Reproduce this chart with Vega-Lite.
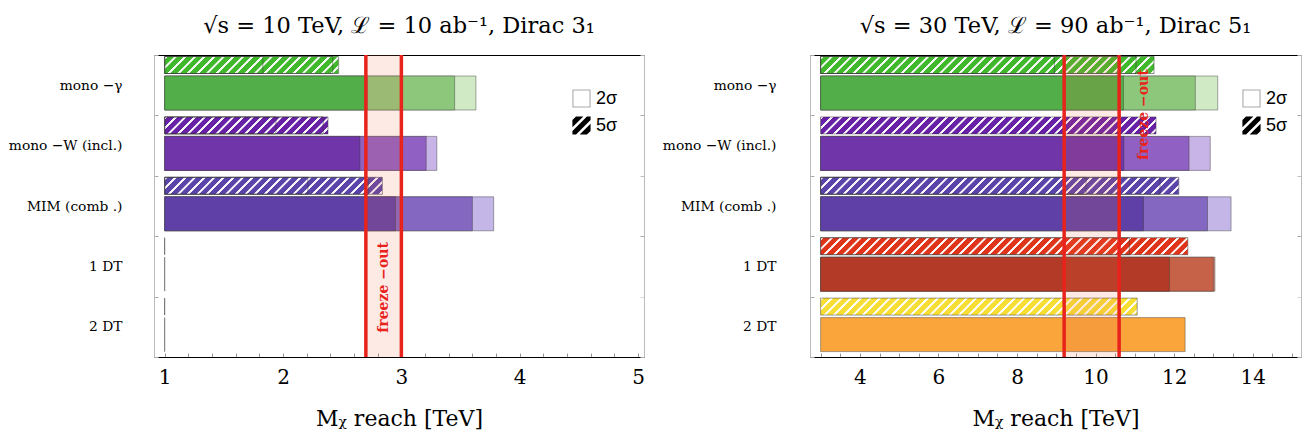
{
"$schema": "https://vega.github.io/schema/vega-lite/v6.json",
"padding": {"left": 5, "top": 14, "right": 2, "bottom": 2},
"background": "white",
"datasets": {
"left": [
{"process": "mono −γ", "sigma": "2σ", "tier": 3, "value": 3.63},
{"process": "mono −γ", "sigma": "2σ", "tier": 2, "value": 3.45},
{"process": "mono −γ", "sigma": "2σ", "tier": 1, "value": 2.71},
{"process": "mono −γ", "sigma": "5σ", "tier": 3, "value": 2.47},
{"process": "mono −γ", "sigma": "5σ", "tier": 2, "value": 2.42},
{"process": "mono −γ", "sigma": "5σ", "tier": 1, "value": 1.83},
{"process": "mono −W (incl.)", "sigma": "2σ", "tier": 3, "value": 3.30},
{"process": "mono −W (incl.)", "sigma": "2σ", "tier": 2, "value": 3.21},
{"process": "mono −W (incl.)", "sigma": "2σ", "tier": 1, "value": 2.65},
{"process": "mono −W (incl.)", "sigma": "5σ", "tier": 3, "value": 2.38},
{"process": "mono −W (incl.)", "sigma": "5σ", "tier": 2, "value": 2.34},
{"process": "mono −W (incl.)", "sigma": "5σ", "tier": 1, "value": 1.94},
{"process": "MIM (comb .)", "sigma": "2σ", "tier": 3, "value": 3.78},
{"process": "MIM (comb .)", "sigma": "2σ", "tier": 2, "value": 3.60},
{"process": "MIM (comb .)", "sigma": "2σ", "tier": 1, "value": 2.95},
{"process": "MIM (comb .)", "sigma": "5σ", "tier": 3, "value": 2.84},
{"process": "MIM (comb .)", "sigma": "5σ", "tier": 2, "value": 2.72},
{"process": "MIM (comb .)", "sigma": "5σ", "tier": 1, "value": 2.21},
{"process": "1 DT", "sigma": "2σ", "tier": 3, "value": 1.0},
{"process": "1 DT", "sigma": "5σ", "tier": 3, "value": 1.0},
{"process": "2 DT", "sigma": "2σ", "tier": 3, "value": 1.0},
{"process": "2 DT", "sigma": "5σ", "tier": 3, "value": 1.0}
],
"right": [
{"process": "mono −γ", "sigma": "2σ", "tier": 3, "value": 13.11},
{"process": "mono −γ", "sigma": "2σ", "tier": 2, "value": 12.54},
{"process": "mono −γ", "sigma": "2σ", "tier": 1, "value": 10.71},
{"process": "mono −γ", "sigma": "5σ", "tier": 3, "value": 11.49},
{"process": "mono −γ", "sigma": "5σ", "tier": 2, "value": 11.03},
{"process": "mono −γ", "sigma": "5σ", "tier": 1, "value": 8.95},
{"process": "mono −W (incl.)", "sigma": "2σ", "tier": 3, "value": 12.92},
{"process": "mono −W (incl.)", "sigma": "2σ", "tier": 2, "value": 12.38},
{"process": "mono −W (incl.)", "sigma": "2σ", "tier": 1, "value": 10.72},
{"process": "mono −W (incl.)", "sigma": "5σ", "tier": 3, "value": 11.54},
{"process": "MIM (comb .)", "sigma": "2σ", "tier": 3, "value": 13.45},
{"process": "MIM (comb .)", "sigma": "2σ", "tier": 2, "value": 12.85},
{"process": "MIM (comb .)", "sigma": "2σ", "tier": 1, "value": 11.22},
{"process": "MIM (comb .)", "sigma": "5σ", "tier": 3, "value": 12.12},
{"process": "MIM (comb .)", "sigma": "5σ", "tier": 2, "value": 11.64},
{"process": "MIM (comb .)", "sigma": "5σ", "tier": 1, "value": 9.76},
{"process": "1 DT", "sigma": "2σ", "tier": 3, "value": 13.04},
{"process": "1 DT", "sigma": "2σ", "tier": 2, "value": 13.0},
{"process": "1 DT", "sigma": "2σ", "tier": 1, "value": 11.88},
{"process": "1 DT", "sigma": "5σ", "tier": 3, "value": 12.35},
{"process": "1 DT", "sigma": "5σ", "tier": 2, "value": 10.86},
{"process": "2 DT", "sigma": "2σ", "tier": 3, "value": 12.28},
{"process": "2 DT", "sigma": "5σ", "tier": 3, "value": 11.06}
],
"leftFreeze": [{"lo": 2.7, "hi": 3.0, "tx": 2.85, "ty": "1 DT", "label": "freeze −out"}],
"rightFreeze": [{"lo": 9.2, "hi": 10.6, "tx": 11.23, "ty": "mono −W (incl.)", "label": "freeze −out"}]
},
"hconcat": [
{
"width": 490, "height": 302,
"title": {"text": "√s = 10 TeV, ℒ = 10 ab⁻¹, Dirac 3₁", "font": "DejaVu Serif", "fontSize": 22.5, "fontWeight": "normal", "anchor": "middle", "offset": 11, "color": "#000"},
"data": {"name": "left"},
"resolve": {"axis": {"x": "independent", "y": "independent"}},
"layer": [
{
"transform": [{"filter": "datum.sigma === '2σ'"}, {"calculate": "datum.process + '|' + datum.sigma + datum.tier", "as": "key"}],
"mark": {"type": "bar", "height": 34, "yOffset": 7.8, "stroke": "#3a3a3a", "strokeWidth": 0.8, "strokeOpacity": 0.55},
"encoding": {
"y": {"field": "process", "type": "nominal", "scale": {"domain": ["mono −γ", "mono −W (incl.)", "MIM (comb .)", "1 DT", "2 DT"], "paddingInner": 0, "paddingOuter": 0},
"axis": {"orient": "left", "title": null, "labelFont": "DejaVu Serif", "labelFontSize": 13.8, "labelColor": "#000", "labelPadding": 36, "tickBand": "extent", "tickSize": -4, "tickColor": "#aaa", "domainColor": "#bbb", "minExtent": 149, "maxExtent": 149}},
"x": {"field": "value", "type": "quantitative", "scale": {"domain": [0.91, 5.05], "nice": false, "zero": false},
"axis": {"orient": "bottom", "values": [1,1.2,1.4,1.6,1.8,2,2.2,2.4,2.6,2.8,3,3.2,3.4,3.6,3.8,4,4.2,4.4,4.6,4.8,5], "labelExpr": "datum.value % 1 === 0 ? format(datum.value, 'd') : ''", "title": "Mᵪ reach [TeV]", "grid": false, "domainColor": "#000", "domainWidth": 1.2, "tickColor": "#999", "tickSize": -4, "labelFont": "DejaVu Serif", "labelFontSize": 20, "labelColor": "#000", "labelPadding": 14, "labelFlush": false, "labelOverlap": false, "titleFont": "DejaVu Serif", "titleFontSize": 22, "titleFontWeight": "normal", "titleColor": "#000", "titlePadding": 21}},
"x2": {"datum": 1},
"color": {"field": "key", "type": "nominal", "legend": null, "scale": {
"domain": ["mono −γ|2σ1","mono −γ|2σ2","mono −γ|2σ3","mono −γ|5σ3","mono −W (incl.)|2σ1","mono −W (incl.)|2σ2","mono −W (incl.)|2σ3","mono −W (incl.)|5σ3","MIM (comb .)|2σ1","MIM (comb .)|2σ2","MIM (comb .)|2σ3","MIM (comb .)|5σ3","1 DT|2σ1","1 DT|2σ2","1 DT|2σ3","1 DT|5σ3","2 DT|2σ3","2 DT|5σ3"],
"range": ["#52ae48","#8dc77b","#d0eac5","#3fb82c","#6f35a9","#9060c3","#c9b4e7","#6820a6","#5e40a7","#8467c0","#c4b7e8","#5a43a9","#b33a26","#c56248","#d89a88","#e0341a","#f9a53b","#f6de34"]}}
}
},
{
"transform": [{"filter": "datum.sigma === '5σ' && datum.tier === 3"}, {"calculate": "datum.process + '|' + datum.sigma + datum.tier", "as": "key"}],
"mark": {"type": "bar", "height": 17, "yOffset": -20.2},
"encoding": {
"y": {"field": "process", "type": "nominal", "scale": {"domain": ["mono −γ", "mono −W (incl.)", "MIM (comb .)", "1 DT", "2 DT"], "paddingInner": 0, "paddingOuter": 0},
"axis": {"orient": "right", "title": null, "labels": false, "tickBand": "extent", "tickSize": -4, "tickColor": "#aaa", "domainColor": "#bbb", "minExtent": 0, "maxExtent": 0}},
"x": {"field": "value", "type": "quantitative", "scale": {"domain": [0.91, 5.05], "nice": false, "zero": false},
"axis": {"orient": "top", "values": [1,1.2,1.4,1.6,1.8,2,2.2,2.4,2.6,2.8,3,3.2,3.4,3.6,3.8,4,4.2,4.4,4.6,4.8,5], "labels": false, "title": null, "grid": false, "domainColor": "#000", "domainWidth": 1.2, "tickColor": "#999", "tickSize": -4, "minExtent": 0, "maxExtent": 0}},
"x2": {"datum": 1},
"color": {"field": "key", "type": "nominal", "legend": null, "scale": {
"domain": ["mono −γ|2σ1","mono −γ|2σ2","mono −γ|2σ3","mono −γ|5σ3","mono −W (incl.)|2σ1","mono −W (incl.)|2σ2","mono −W (incl.)|2σ3","mono −W (incl.)|5σ3","MIM (comb .)|2σ1","MIM (comb .)|2σ2","MIM (comb .)|2σ3","MIM (comb .)|5σ3","1 DT|2σ1","1 DT|2σ2","1 DT|2σ3","1 DT|5σ3","2 DT|2σ3","2 DT|5σ3"],
"range": ["#52ae48","#8dc77b","#d0eac5","#3fb82c","#6f35a9","#9060c3","#c9b4e7","#6820a6","#5e40a7","#8467c0","#c4b7e8","#5a43a9","#b33a26","#c56248","#d89a88","#e0341a","#f9a53b","#f6de34"]}}
}
},
{
"transform": [{"filter": "datum.sigma === '5σ' && datum.tier === 3"}],
"mark": {"type": "bar", "height": 17, "yOffset": -20.2, "fill": {"gradient": "linear", "x1": 0, "y1": 0, "x2": 1, "y2": 0.0354, "stops": [
{"offset":0,"color":"rgba(255,255,255,0)"},{"offset":0.001,"color":"rgba(255,255,255,0.95)"},{"offset":0.006,"color":"rgba(255,255,255,0.95)"},{"offset":0.007,"color":"rgba(255,255,255,0)"},
{"offset":0.02,"color":"rgba(255,255,255,0)"},{"offset":0.021,"color":"rgba(255,255,255,0.95)"},{"offset":0.026,"color":"rgba(255,255,255,0.95)"},{"offset":0.027,"color":"rgba(255,255,255,0)"},
{"offset":0.04,"color":"rgba(255,255,255,0)"},{"offset":0.041,"color":"rgba(255,255,255,0.95)"},{"offset":0.046,"color":"rgba(255,255,255,0.95)"},{"offset":0.047,"color":"rgba(255,255,255,0)"},
{"offset":0.06,"color":"rgba(255,255,255,0)"},{"offset":0.061,"color":"rgba(255,255,255,0.95)"},{"offset":0.066,"color":"rgba(255,255,255,0.95)"},{"offset":0.067,"color":"rgba(255,255,255,0)"},
{"offset":0.08,"color":"rgba(255,255,255,0)"},{"offset":0.081,"color":"rgba(255,255,255,0.95)"},{"offset":0.086,"color":"rgba(255,255,255,0.95)"},{"offset":0.087,"color":"rgba(255,255,255,0)"},
{"offset":0.1,"color":"rgba(255,255,255,0)"},{"offset":0.101,"color":"rgba(255,255,255,0.95)"},{"offset":0.106,"color":"rgba(255,255,255,0.95)"},{"offset":0.107,"color":"rgba(255,255,255,0)"},
{"offset":0.12,"color":"rgba(255,255,255,0)"},{"offset":0.121,"color":"rgba(255,255,255,0.95)"},{"offset":0.126,"color":"rgba(255,255,255,0.95)"},{"offset":0.127,"color":"rgba(255,255,255,0)"},
{"offset":0.14,"color":"rgba(255,255,255,0)"},{"offset":0.141,"color":"rgba(255,255,255,0.95)"},{"offset":0.146,"color":"rgba(255,255,255,0.95)"},{"offset":0.147,"color":"rgba(255,255,255,0)"},
{"offset":0.16,"color":"rgba(255,255,255,0)"},{"offset":0.161,"color":"rgba(255,255,255,0.95)"},{"offset":0.166,"color":"rgba(255,255,255,0.95)"},{"offset":0.167,"color":"rgba(255,255,255,0)"},
{"offset":0.18,"color":"rgba(255,255,255,0)"},{"offset":0.181,"color":"rgba(255,255,255,0.95)"},{"offset":0.186,"color":"rgba(255,255,255,0.95)"},{"offset":0.187,"color":"rgba(255,255,255,0)"},
{"offset":0.2,"color":"rgba(255,255,255,0)"},{"offset":0.201,"color":"rgba(255,255,255,0.95)"},{"offset":0.206,"color":"rgba(255,255,255,0.95)"},{"offset":0.207,"color":"rgba(255,255,255,0)"},
{"offset":0.22,"color":"rgba(255,255,255,0)"},{"offset":0.221,"color":"rgba(255,255,255,0.95)"},{"offset":0.226,"color":"rgba(255,255,255,0.95)"},{"offset":0.227,"color":"rgba(255,255,255,0)"},
{"offset":0.24,"color":"rgba(255,255,255,0)"},{"offset":0.241,"color":"rgba(255,255,255,0.95)"},{"offset":0.246,"color":"rgba(255,255,255,0.95)"},{"offset":0.247,"color":"rgba(255,255,255,0)"},
{"offset":0.26,"color":"rgba(255,255,255,0)"},{"offset":0.261,"color":"rgba(255,255,255,0.95)"},{"offset":0.266,"color":"rgba(255,255,255,0.95)"},{"offset":0.267,"color":"rgba(255,255,255,0)"},
{"offset":0.28,"color":"rgba(255,255,255,0)"},{"offset":0.281,"color":"rgba(255,255,255,0.95)"},{"offset":0.286,"color":"rgba(255,255,255,0.95)"},{"offset":0.287,"color":"rgba(255,255,255,0)"},
{"offset":0.3,"color":"rgba(255,255,255,0)"},{"offset":0.301,"color":"rgba(255,255,255,0.95)"},{"offset":0.306,"color":"rgba(255,255,255,0.95)"},{"offset":0.307,"color":"rgba(255,255,255,0)"},
{"offset":0.32,"color":"rgba(255,255,255,0)"},{"offset":0.321,"color":"rgba(255,255,255,0.95)"},{"offset":0.326,"color":"rgba(255,255,255,0.95)"},{"offset":0.327,"color":"rgba(255,255,255,0)"},
{"offset":0.34,"color":"rgba(255,255,255,0)"},{"offset":0.341,"color":"rgba(255,255,255,0.95)"},{"offset":0.346,"color":"rgba(255,255,255,0.95)"},{"offset":0.347,"color":"rgba(255,255,255,0)"},
{"offset":0.36,"color":"rgba(255,255,255,0)"},{"offset":0.361,"color":"rgba(255,255,255,0.95)"},{"offset":0.366,"color":"rgba(255,255,255,0.95)"},{"offset":0.367,"color":"rgba(255,255,255,0)"},
{"offset":0.38,"color":"rgba(255,255,255,0)"},{"offset":0.381,"color":"rgba(255,255,255,0.95)"},{"offset":0.386,"color":"rgba(255,255,255,0.95)"},{"offset":0.387,"color":"rgba(255,255,255,0)"},
{"offset":0.4,"color":"rgba(255,255,255,0)"},{"offset":0.401,"color":"rgba(255,255,255,0.95)"},{"offset":0.406,"color":"rgba(255,255,255,0.95)"},{"offset":0.407,"color":"rgba(255,255,255,0)"},
{"offset":0.42,"color":"rgba(255,255,255,0)"},{"offset":0.421,"color":"rgba(255,255,255,0.95)"},{"offset":0.426,"color":"rgba(255,255,255,0.95)"},{"offset":0.427,"color":"rgba(255,255,255,0)"},
{"offset":0.44,"color":"rgba(255,255,255,0)"},{"offset":0.441,"color":"rgba(255,255,255,0.95)"},{"offset":0.446,"color":"rgba(255,255,255,0.95)"},{"offset":0.447,"color":"rgba(255,255,255,0)"},
{"offset":0.46,"color":"rgba(255,255,255,0)"},{"offset":0.461,"color":"rgba(255,255,255,0.95)"},{"offset":0.466,"color":"rgba(255,255,255,0.95)"},{"offset":0.467,"color":"rgba(255,255,255,0)"},
{"offset":0.48,"color":"rgba(255,255,255,0)"},{"offset":0.481,"color":"rgba(255,255,255,0.95)"},{"offset":0.486,"color":"rgba(255,255,255,0.95)"},{"offset":0.487,"color":"rgba(255,255,255,0)"},
{"offset":0.5,"color":"rgba(255,255,255,0)"},{"offset":0.501,"color":"rgba(255,255,255,0.95)"},{"offset":0.506,"color":"rgba(255,255,255,0.95)"},{"offset":0.507,"color":"rgba(255,255,255,0)"},
{"offset":0.52,"color":"rgba(255,255,255,0)"},{"offset":0.521,"color":"rgba(255,255,255,0.95)"},{"offset":0.526,"color":"rgba(255,255,255,0.95)"},{"offset":0.527,"color":"rgba(255,255,255,0)"},
{"offset":0.54,"color":"rgba(255,255,255,0)"},{"offset":0.541,"color":"rgba(255,255,255,0.95)"},{"offset":0.546,"color":"rgba(255,255,255,0.95)"},{"offset":0.547,"color":"rgba(255,255,255,0)"},
{"offset":0.56,"color":"rgba(255,255,255,0)"},{"offset":0.561,"color":"rgba(255,255,255,0.95)"},{"offset":0.566,"color":"rgba(255,255,255,0.95)"},{"offset":0.567,"color":"rgba(255,255,255,0)"},
{"offset":0.58,"color":"rgba(255,255,255,0)"},{"offset":0.581,"color":"rgba(255,255,255,0.95)"},{"offset":0.586,"color":"rgba(255,255,255,0.95)"},{"offset":0.587,"color":"rgba(255,255,255,0)"},
{"offset":0.6,"color":"rgba(255,255,255,0)"},{"offset":0.601,"color":"rgba(255,255,255,0.95)"},{"offset":0.606,"color":"rgba(255,255,255,0.95)"},{"offset":0.607,"color":"rgba(255,255,255,0)"},
{"offset":0.62,"color":"rgba(255,255,255,0)"},{"offset":0.621,"color":"rgba(255,255,255,0.95)"},{"offset":0.626,"color":"rgba(255,255,255,0.95)"},{"offset":0.627,"color":"rgba(255,255,255,0)"},
{"offset":0.64,"color":"rgba(255,255,255,0)"},{"offset":0.641,"color":"rgba(255,255,255,0.95)"},{"offset":0.646,"color":"rgba(255,255,255,0.95)"},{"offset":0.647,"color":"rgba(255,255,255,0)"},
{"offset":0.66,"color":"rgba(255,255,255,0)"},{"offset":0.661,"color":"rgba(255,255,255,0.95)"},{"offset":0.666,"color":"rgba(255,255,255,0.95)"},{"offset":0.667,"color":"rgba(255,255,255,0)"},
{"offset":0.68,"color":"rgba(255,255,255,0)"},{"offset":0.681,"color":"rgba(255,255,255,0.95)"},{"offset":0.686,"color":"rgba(255,255,255,0.95)"},{"offset":0.687,"color":"rgba(255,255,255,0)"},
{"offset":0.7,"color":"rgba(255,255,255,0)"},{"offset":0.701,"color":"rgba(255,255,255,0.95)"},{"offset":0.706,"color":"rgba(255,255,255,0.95)"},{"offset":0.707,"color":"rgba(255,255,255,0)"},
{"offset":0.72,"color":"rgba(255,255,255,0)"},{"offset":0.721,"color":"rgba(255,255,255,0.95)"},{"offset":0.726,"color":"rgba(255,255,255,0.95)"},{"offset":0.727,"color":"rgba(255,255,255,0)"},
{"offset":0.74,"color":"rgba(255,255,255,0)"},{"offset":0.741,"color":"rgba(255,255,255,0.95)"},{"offset":0.746,"color":"rgba(255,255,255,0.95)"},{"offset":0.747,"color":"rgba(255,255,255,0)"},
{"offset":0.76,"color":"rgba(255,255,255,0)"},{"offset":0.761,"color":"rgba(255,255,255,0.95)"},{"offset":0.766,"color":"rgba(255,255,255,0.95)"},{"offset":0.767,"color":"rgba(255,255,255,0)"},
{"offset":0.78,"color":"rgba(255,255,255,0)"},{"offset":0.781,"color":"rgba(255,255,255,0.95)"},{"offset":0.786,"color":"rgba(255,255,255,0.95)"},{"offset":0.787,"color":"rgba(255,255,255,0)"},
{"offset":0.8,"color":"rgba(255,255,255,0)"},{"offset":0.801,"color":"rgba(255,255,255,0.95)"},{"offset":0.806,"color":"rgba(255,255,255,0.95)"},{"offset":0.807,"color":"rgba(255,255,255,0)"},
{"offset":0.82,"color":"rgba(255,255,255,0)"},{"offset":0.821,"color":"rgba(255,255,255,0.95)"},{"offset":0.826,"color":"rgba(255,255,255,0.95)"},{"offset":0.827,"color":"rgba(255,255,255,0)"},
{"offset":0.84,"color":"rgba(255,255,255,0)"},{"offset":0.841,"color":"rgba(255,255,255,0.95)"},{"offset":0.846,"color":"rgba(255,255,255,0.95)"},{"offset":0.847,"color":"rgba(255,255,255,0)"},
{"offset":0.86,"color":"rgba(255,255,255,0)"},{"offset":0.861,"color":"rgba(255,255,255,0.95)"},{"offset":0.866,"color":"rgba(255,255,255,0.95)"},{"offset":0.867,"color":"rgba(255,255,255,0)"},
{"offset":0.88,"color":"rgba(255,255,255,0)"},{"offset":0.881,"color":"rgba(255,255,255,0.95)"},{"offset":0.886,"color":"rgba(255,255,255,0.95)"},{"offset":0.887,"color":"rgba(255,255,255,0)"},
{"offset":0.9,"color":"rgba(255,255,255,0)"},{"offset":0.901,"color":"rgba(255,255,255,0.95)"},{"offset":0.906,"color":"rgba(255,255,255,0.95)"},{"offset":0.907,"color":"rgba(255,255,255,0)"},
{"offset":0.92,"color":"rgba(255,255,255,0)"},{"offset":0.921,"color":"rgba(255,255,255,0.95)"},{"offset":0.926,"color":"rgba(255,255,255,0.95)"},{"offset":0.927,"color":"rgba(255,255,255,0)"},
{"offset":0.94,"color":"rgba(255,255,255,0)"},{"offset":0.941,"color":"rgba(255,255,255,0.95)"},{"offset":0.946,"color":"rgba(255,255,255,0.95)"},{"offset":0.947,"color":"rgba(255,255,255,0)"},
{"offset":0.96,"color":"rgba(255,255,255,0)"},{"offset":0.961,"color":"rgba(255,255,255,0.95)"},{"offset":0.966,"color":"rgba(255,255,255,0.95)"},{"offset":0.967,"color":"rgba(255,255,255,0)"},
{"offset":0.98,"color":"rgba(255,255,255,0)"},{"offset":0.981,"color":"rgba(255,255,255,0.95)"},{"offset":0.986,"color":"rgba(255,255,255,0.95)"},{"offset":0.987,"color":"rgba(255,255,255,0)"}
]}},
"encoding": {
"y": {"field": "process", "type": "nominal", "axis": null, "scale": {"domain": ["mono −γ", "mono −W (incl.)", "MIM (comb .)", "1 DT", "2 DT"], "paddingInner": 0, "paddingOuter": 0}},
"x": {"datum": 1, "type": "quantitative", "axis": null, "scale": {"domain": [0.91, 5.05], "nice": false, "zero": false}},
"x2": {"datum": 5.05}
}
},
{
"transform": [{"filter": "datum.sigma === '5σ' && datum.tier === 3"}],
"mark": {"type": "bar", "color": "#ffffff", "height": 18, "yOffset": -20.2},
"encoding": {
"y": {"field": "process", "type": "nominal", "axis": null, "scale": {"domain": ["mono −γ", "mono −W (incl.)", "MIM (comb .)", "1 DT", "2 DT"], "paddingInner": 0, "paddingOuter": 0}},
"x": {"field": "value", "type": "quantitative", "axis": null, "scale": {"domain": [0.91, 5.05], "nice": false, "zero": false}},
"x2": {"datum": 5.05}
}
},
{
"transform": [{"filter": "datum.sigma === '5σ'"}],
"mark": {"type": "bar", "height": 17, "yOffset": -20.2, "fillOpacity": 0, "stroke": "#333333", "strokeWidth": 0.8, "strokeOpacity": 0.6},
"encoding": {
"y": {"field": "process", "type": "nominal", "axis": null, "scale": {"domain": ["mono −γ", "mono −W (incl.)", "MIM (comb .)", "1 DT", "2 DT"], "paddingInner": 0, "paddingOuter": 0}},
"x": {"field": "value", "type": "quantitative", "axis": null, "scale": {"domain": [0.91, 5.05], "nice": false, "zero": false}},
"x2": {"datum": 1}
}
},
{
"data": {"name": "leftFreeze"},
"mark": {"type": "rect", "color": "#f26a45", "opacity": 0.14},
"encoding": {
"x": {"field": "lo", "type": "quantitative", "axis": null, "scale": {"domain": [0.91, 5.05], "nice": false, "zero": false}},
"x2": {"field": "hi"}
}
},
{
"data": {"name": "leftFreeze"},
"mark": {"type": "rule", "color": "#e8231b", "strokeWidth": 3.5},
"encoding": {"x": {"field": "lo", "type": "quantitative", "axis": null, "scale": {"domain": [0.91, 5.05], "nice": false, "zero": false}}}
},
{
"data": {"name": "leftFreeze"},
"mark": {"type": "rule", "color": "#e8231b", "strokeWidth": 3.5},
"encoding": {"x": {"field": "hi", "type": "quantitative", "axis": null, "scale": {"domain": [0.91, 5.05], "nice": false, "zero": false}}}
},
{
"data": {"name": "leftFreeze"},
"mark": {"type": "text", "angle": 270, "font": "DejaVu Serif", "fontWeight": "bold", "fontSize": 14, "color": "#e8231b", "align": "center", "baseline": "middle", "yOffset": 21},
"encoding": {
"x": {"field": "tx", "type": "quantitative", "axis": null, "scale": {"domain": [0.91, 5.05], "nice": false, "zero": false}},
"y": {"field": "ty", "type": "nominal", "axis": null, "scale": {"domain": ["mono −γ", "mono −W (incl.)", "MIM (comb .)", "1 DT", "2 DT"], "paddingInner": 0, "paddingOuter": 0}},
"text": {"field": "label"}
}
},
{
"mark": {"type": "point", "filled": true, "opacity": 0},
"encoding": {
"y": {"field": "process", "type": "nominal", "axis": null, "scale": {"domain": ["mono −γ", "mono −W (incl.)", "MIM (comb .)", "1 DT", "2 DT"], "paddingInner": 0, "paddingOuter": 0}},
"x": {"field": "value", "type": "quantitative", "axis": null, "scale": {"domain": [0.91, 5.05], "nice": false, "zero": false}},
"shape": {"field": "sigma", "type": "nominal", "scale": {"domain": ["2σ", "5σ"], "range": ["M-1,-1H1V1H-1Z M-0.88,-0.88V0.88H0.88V-0.88Z", "M-1,-0.6L-0.6,-1L0.2,-1L-1,0.2Z M-1,0.6L0.6,-1L1,-1L1,-0.6L-0.6,1L-1,1Z M1,-0.2L1,0.6L0.6,1L-0.2,1Z"]},
"legend": {"orient": "none", "legendX": 418, "legendY": 34, "title": null, "padding": 0, "symbolSize": 330, "symbolOpacity": 1, "symbolStrokeWidth": 0, "labelFont": "Liberation Sans", "labelFontSize": 18, "labelColor": "#000", "rowPadding": 8, "labelOffset": 5}},
"fill": {"field": "sigma", "type": "nominal", "scale": {"domain": ["2σ", "5σ"], "range": ["#aaaaaa", "#000000"]},
"legend": {"orient": "none", "legendX": 418, "legendY": 34, "title": null, "padding": 0, "symbolSize": 330, "symbolOpacity": 1, "symbolStrokeWidth": 0, "labelFont": "Liberation Sans", "labelFontSize": 18, "labelColor": "#000", "rowPadding": 8, "labelOffset": 5}}
}
}
]
},
{
"width": 491, "height": 302,
"title": {"text": "√s = 30 TeV, ℒ = 90 ab⁻¹, Dirac 5₁", "font": "DejaVu Serif", "fontSize": 22.5, "fontWeight": "normal", "anchor": "middle", "offset": 11, "color": "#000"},
"data": {"name": "right"},
"resolve": {"axis": {"x": "independent", "y": "independent"}},
"layer": [
{
"transform": [{"filter": "datum.sigma === '2σ'"}, {"calculate": "datum.process + '|' + datum.sigma + datum.tier", "as": "key"}],
"mark": {"type": "bar", "height": 34, "yOffset": 7.8, "stroke": "#3a3a3a", "strokeWidth": 0.8, "strokeOpacity": 0.55},
"encoding": {
"y": {"field": "process", "type": "nominal", "scale": {"domain": ["mono −γ", "mono −W (incl.)", "MIM (comb .)", "1 DT", "2 DT"], "paddingInner": 0, "paddingOuter": 0},
"axis": {"orient": "left", "title": null, "labelFont": "DejaVu Serif", "labelFontSize": 13.8, "labelColor": "#000", "labelPadding": 38, "tickBand": "extent", "tickSize": -4, "tickColor": "#aaa", "domainColor": "#bbb", "minExtent": 150, "maxExtent": 150}},
"x": {"field": "value", "type": "quantitative", "scale": {"domain": [2.73, 15.23], "nice": false, "zero": false},
"axis": {"orient": "bottom", "values": [3,3.5,4,4.5,5,5.5,6,6.5,7,7.5,8,8.5,9,9.5,10,10.5,11,11.5,12,12.5,13,13.5,14,14.5,15], "labelExpr": "datum.value % 2 === 0 ? format(datum.value, 'd') : ''", "title": "Mᵪ reach [TeV]", "grid": false, "domainColor": "#000", "domainWidth": 1.2, "tickColor": "#999", "tickSize": -4, "labelFont": "DejaVu Serif", "labelFontSize": 20, "labelColor": "#000", "labelPadding": 14, "labelFlush": false, "labelOverlap": false, "titleFont": "DejaVu Serif", "titleFontSize": 22, "titleFontWeight": "normal", "titleColor": "#000", "titlePadding": 21}},
"x2": {"datum": 3},
"color": {"field": "key", "type": "nominal", "legend": null, "scale": {
"domain": ["mono −γ|2σ1","mono −γ|2σ2","mono −γ|2σ3","mono −γ|5σ3","mono −W (incl.)|2σ1","mono −W (incl.)|2σ2","mono −W (incl.)|2σ3","mono −W (incl.)|5σ3","MIM (comb .)|2σ1","MIM (comb .)|2σ2","MIM (comb .)|2σ3","MIM (comb .)|5σ3","1 DT|2σ1","1 DT|2σ2","1 DT|2σ3","1 DT|5σ3","2 DT|2σ3","2 DT|5σ3"],
"range": ["#52ae48","#8dc77b","#d0eac5","#3fb82c","#6f35a9","#9060c3","#c9b4e7","#6820a6","#5e40a7","#8467c0","#c4b7e8","#5a43a9","#b33a26","#c56248","#d89a88","#e0341a","#f9a53b","#f6de34"]}}
}
},
{
"transform": [{"filter": "datum.sigma === '5σ' && datum.tier === 3"}, {"calculate": "datum.process + '|' + datum.sigma + datum.tier", "as": "key"}],
"mark": {"type": "bar", "height": 17, "yOffset": -20.2},
"encoding": {
"y": {"field": "process", "type": "nominal", "scale": {"domain": ["mono −γ", "mono −W (incl.)", "MIM (comb .)", "1 DT", "2 DT"], "paddingInner": 0, "paddingOuter": 0},
"axis": {"orient": "right", "title": null, "labels": false, "tickBand": "extent", "tickSize": -4, "tickColor": "#aaa", "domainColor": "#bbb", "minExtent": 0, "maxExtent": 0}},
"x": {"field": "value", "type": "quantitative", "scale": {"domain": [2.73, 15.23], "nice": false, "zero": false},
"axis": {"orient": "top", "values": [3,3.5,4,4.5,5,5.5,6,6.5,7,7.5,8,8.5,9,9.5,10,10.5,11,11.5,12,12.5,13,13.5,14,14.5,15], "labels": false, "title": null, "grid": false, "domainColor": "#000", "domainWidth": 1.2, "tickColor": "#999", "tickSize": -4, "minExtent": 0, "maxExtent": 0}},
"x2": {"datum": 3},
"color": {"field": "key", "type": "nominal", "legend": null, "scale": {
"domain": ["mono −γ|2σ1","mono −γ|2σ2","mono −γ|2σ3","mono −γ|5σ3","mono −W (incl.)|2σ1","mono −W (incl.)|2σ2","mono −W (incl.)|2σ3","mono −W (incl.)|5σ3","MIM (comb .)|2σ1","MIM (comb .)|2σ2","MIM (comb .)|2σ3","MIM (comb .)|5σ3","1 DT|2σ1","1 DT|2σ2","1 DT|2σ3","1 DT|5σ3","2 DT|2σ3","2 DT|5σ3"],
"range": ["#52ae48","#8dc77b","#d0eac5","#3fb82c","#6f35a9","#9060c3","#c9b4e7","#6820a6","#5e40a7","#8467c0","#c4b7e8","#5a43a9","#b33a26","#c56248","#d89a88","#e0341a","#f9a53b","#f6de34"]}}
}
},
{
"transform": [{"filter": "datum.sigma === '5σ' && datum.tier === 3"}],
"mark": {"type": "bar", "height": 17, "yOffset": -20.2, "fill": {"gradient": "linear", "x1": 0, "y1": 0, "x2": 1, "y2": 0.0354, "stops": [
{"offset":0,"color":"rgba(255,255,255,0)"},{"offset":0.001,"color":"rgba(255,255,255,0.95)"},{"offset":0.006,"color":"rgba(255,255,255,0.95)"},{"offset":0.007,"color":"rgba(255,255,255,0)"},
{"offset":0.02,"color":"rgba(255,255,255,0)"},{"offset":0.021,"color":"rgba(255,255,255,0.95)"},{"offset":0.026,"color":"rgba(255,255,255,0.95)"},{"offset":0.027,"color":"rgba(255,255,255,0)"},
{"offset":0.04,"color":"rgba(255,255,255,0)"},{"offset":0.041,"color":"rgba(255,255,255,0.95)"},{"offset":0.046,"color":"rgba(255,255,255,0.95)"},{"offset":0.047,"color":"rgba(255,255,255,0)"},
{"offset":0.06,"color":"rgba(255,255,255,0)"},{"offset":0.061,"color":"rgba(255,255,255,0.95)"},{"offset":0.066,"color":"rgba(255,255,255,0.95)"},{"offset":0.067,"color":"rgba(255,255,255,0)"},
{"offset":0.08,"color":"rgba(255,255,255,0)"},{"offset":0.081,"color":"rgba(255,255,255,0.95)"},{"offset":0.086,"color":"rgba(255,255,255,0.95)"},{"offset":0.087,"color":"rgba(255,255,255,0)"},
{"offset":0.1,"color":"rgba(255,255,255,0)"},{"offset":0.101,"color":"rgba(255,255,255,0.95)"},{"offset":0.106,"color":"rgba(255,255,255,0.95)"},{"offset":0.107,"color":"rgba(255,255,255,0)"},
{"offset":0.12,"color":"rgba(255,255,255,0)"},{"offset":0.121,"color":"rgba(255,255,255,0.95)"},{"offset":0.126,"color":"rgba(255,255,255,0.95)"},{"offset":0.127,"color":"rgba(255,255,255,0)"},
{"offset":0.14,"color":"rgba(255,255,255,0)"},{"offset":0.141,"color":"rgba(255,255,255,0.95)"},{"offset":0.146,"color":"rgba(255,255,255,0.95)"},{"offset":0.147,"color":"rgba(255,255,255,0)"},
{"offset":0.16,"color":"rgba(255,255,255,0)"},{"offset":0.161,"color":"rgba(255,255,255,0.95)"},{"offset":0.166,"color":"rgba(255,255,255,0.95)"},{"offset":0.167,"color":"rgba(255,255,255,0)"},
{"offset":0.18,"color":"rgba(255,255,255,0)"},{"offset":0.181,"color":"rgba(255,255,255,0.95)"},{"offset":0.186,"color":"rgba(255,255,255,0.95)"},{"offset":0.187,"color":"rgba(255,255,255,0)"},
{"offset":0.2,"color":"rgba(255,255,255,0)"},{"offset":0.201,"color":"rgba(255,255,255,0.95)"},{"offset":0.206,"color":"rgba(255,255,255,0.95)"},{"offset":0.207,"color":"rgba(255,255,255,0)"},
{"offset":0.22,"color":"rgba(255,255,255,0)"},{"offset":0.221,"color":"rgba(255,255,255,0.95)"},{"offset":0.226,"color":"rgba(255,255,255,0.95)"},{"offset":0.227,"color":"rgba(255,255,255,0)"},
{"offset":0.24,"color":"rgba(255,255,255,0)"},{"offset":0.241,"color":"rgba(255,255,255,0.95)"},{"offset":0.246,"color":"rgba(255,255,255,0.95)"},{"offset":0.247,"color":"rgba(255,255,255,0)"},
{"offset":0.26,"color":"rgba(255,255,255,0)"},{"offset":0.261,"color":"rgba(255,255,255,0.95)"},{"offset":0.266,"color":"rgba(255,255,255,0.95)"},{"offset":0.267,"color":"rgba(255,255,255,0)"},
{"offset":0.28,"color":"rgba(255,255,255,0)"},{"offset":0.281,"color":"rgba(255,255,255,0.95)"},{"offset":0.286,"color":"rgba(255,255,255,0.95)"},{"offset":0.287,"color":"rgba(255,255,255,0)"},
{"offset":0.3,"color":"rgba(255,255,255,0)"},{"offset":0.301,"color":"rgba(255,255,255,0.95)"},{"offset":0.306,"color":"rgba(255,255,255,0.95)"},{"offset":0.307,"color":"rgba(255,255,255,0)"},
{"offset":0.32,"color":"rgba(255,255,255,0)"},{"offset":0.321,"color":"rgba(255,255,255,0.95)"},{"offset":0.326,"color":"rgba(255,255,255,0.95)"},{"offset":0.327,"color":"rgba(255,255,255,0)"},
{"offset":0.34,"color":"rgba(255,255,255,0)"},{"offset":0.341,"color":"rgba(255,255,255,0.95)"},{"offset":0.346,"color":"rgba(255,255,255,0.95)"},{"offset":0.347,"color":"rgba(255,255,255,0)"},
{"offset":0.36,"color":"rgba(255,255,255,0)"},{"offset":0.361,"color":"rgba(255,255,255,0.95)"},{"offset":0.366,"color":"rgba(255,255,255,0.95)"},{"offset":0.367,"color":"rgba(255,255,255,0)"},
{"offset":0.38,"color":"rgba(255,255,255,0)"},{"offset":0.381,"color":"rgba(255,255,255,0.95)"},{"offset":0.386,"color":"rgba(255,255,255,0.95)"},{"offset":0.387,"color":"rgba(255,255,255,0)"},
{"offset":0.4,"color":"rgba(255,255,255,0)"},{"offset":0.401,"color":"rgba(255,255,255,0.95)"},{"offset":0.406,"color":"rgba(255,255,255,0.95)"},{"offset":0.407,"color":"rgba(255,255,255,0)"},
{"offset":0.42,"color":"rgba(255,255,255,0)"},{"offset":0.421,"color":"rgba(255,255,255,0.95)"},{"offset":0.426,"color":"rgba(255,255,255,0.95)"},{"offset":0.427,"color":"rgba(255,255,255,0)"},
{"offset":0.44,"color":"rgba(255,255,255,0)"},{"offset":0.441,"color":"rgba(255,255,255,0.95)"},{"offset":0.446,"color":"rgba(255,255,255,0.95)"},{"offset":0.447,"color":"rgba(255,255,255,0)"},
{"offset":0.46,"color":"rgba(255,255,255,0)"},{"offset":0.461,"color":"rgba(255,255,255,0.95)"},{"offset":0.466,"color":"rgba(255,255,255,0.95)"},{"offset":0.467,"color":"rgba(255,255,255,0)"},
{"offset":0.48,"color":"rgba(255,255,255,0)"},{"offset":0.481,"color":"rgba(255,255,255,0.95)"},{"offset":0.486,"color":"rgba(255,255,255,0.95)"},{"offset":0.487,"color":"rgba(255,255,255,0)"},
{"offset":0.5,"color":"rgba(255,255,255,0)"},{"offset":0.501,"color":"rgba(255,255,255,0.95)"},{"offset":0.506,"color":"rgba(255,255,255,0.95)"},{"offset":0.507,"color":"rgba(255,255,255,0)"},
{"offset":0.52,"color":"rgba(255,255,255,0)"},{"offset":0.521,"color":"rgba(255,255,255,0.95)"},{"offset":0.526,"color":"rgba(255,255,255,0.95)"},{"offset":0.527,"color":"rgba(255,255,255,0)"},
{"offset":0.54,"color":"rgba(255,255,255,0)"},{"offset":0.541,"color":"rgba(255,255,255,0.95)"},{"offset":0.546,"color":"rgba(255,255,255,0.95)"},{"offset":0.547,"color":"rgba(255,255,255,0)"},
{"offset":0.56,"color":"rgba(255,255,255,0)"},{"offset":0.561,"color":"rgba(255,255,255,0.95)"},{"offset":0.566,"color":"rgba(255,255,255,0.95)"},{"offset":0.567,"color":"rgba(255,255,255,0)"},
{"offset":0.58,"color":"rgba(255,255,255,0)"},{"offset":0.581,"color":"rgba(255,255,255,0.95)"},{"offset":0.586,"color":"rgba(255,255,255,0.95)"},{"offset":0.587,"color":"rgba(255,255,255,0)"},
{"offset":0.6,"color":"rgba(255,255,255,0)"},{"offset":0.601,"color":"rgba(255,255,255,0.95)"},{"offset":0.606,"color":"rgba(255,255,255,0.95)"},{"offset":0.607,"color":"rgba(255,255,255,0)"},
{"offset":0.62,"color":"rgba(255,255,255,0)"},{"offset":0.621,"color":"rgba(255,255,255,0.95)"},{"offset":0.626,"color":"rgba(255,255,255,0.95)"},{"offset":0.627,"color":"rgba(255,255,255,0)"},
{"offset":0.64,"color":"rgba(255,255,255,0)"},{"offset":0.641,"color":"rgba(255,255,255,0.95)"},{"offset":0.646,"color":"rgba(255,255,255,0.95)"},{"offset":0.647,"color":"rgba(255,255,255,0)"},
{"offset":0.66,"color":"rgba(255,255,255,0)"},{"offset":0.661,"color":"rgba(255,255,255,0.95)"},{"offset":0.666,"color":"rgba(255,255,255,0.95)"},{"offset":0.667,"color":"rgba(255,255,255,0)"},
{"offset":0.68,"color":"rgba(255,255,255,0)"},{"offset":0.681,"color":"rgba(255,255,255,0.95)"},{"offset":0.686,"color":"rgba(255,255,255,0.95)"},{"offset":0.687,"color":"rgba(255,255,255,0)"},
{"offset":0.7,"color":"rgba(255,255,255,0)"},{"offset":0.701,"color":"rgba(255,255,255,0.95)"},{"offset":0.706,"color":"rgba(255,255,255,0.95)"},{"offset":0.707,"color":"rgba(255,255,255,0)"},
{"offset":0.72,"color":"rgba(255,255,255,0)"},{"offset":0.721,"color":"rgba(255,255,255,0.95)"},{"offset":0.726,"color":"rgba(255,255,255,0.95)"},{"offset":0.727,"color":"rgba(255,255,255,0)"},
{"offset":0.74,"color":"rgba(255,255,255,0)"},{"offset":0.741,"color":"rgba(255,255,255,0.95)"},{"offset":0.746,"color":"rgba(255,255,255,0.95)"},{"offset":0.747,"color":"rgba(255,255,255,0)"},
{"offset":0.76,"color":"rgba(255,255,255,0)"},{"offset":0.761,"color":"rgba(255,255,255,0.95)"},{"offset":0.766,"color":"rgba(255,255,255,0.95)"},{"offset":0.767,"color":"rgba(255,255,255,0)"},
{"offset":0.78,"color":"rgba(255,255,255,0)"},{"offset":0.781,"color":"rgba(255,255,255,0.95)"},{"offset":0.786,"color":"rgba(255,255,255,0.95)"},{"offset":0.787,"color":"rgba(255,255,255,0)"},
{"offset":0.8,"color":"rgba(255,255,255,0)"},{"offset":0.801,"color":"rgba(255,255,255,0.95)"},{"offset":0.806,"color":"rgba(255,255,255,0.95)"},{"offset":0.807,"color":"rgba(255,255,255,0)"},
{"offset":0.82,"color":"rgba(255,255,255,0)"},{"offset":0.821,"color":"rgba(255,255,255,0.95)"},{"offset":0.826,"color":"rgba(255,255,255,0.95)"},{"offset":0.827,"color":"rgba(255,255,255,0)"},
{"offset":0.84,"color":"rgba(255,255,255,0)"},{"offset":0.841,"color":"rgba(255,255,255,0.95)"},{"offset":0.846,"color":"rgba(255,255,255,0.95)"},{"offset":0.847,"color":"rgba(255,255,255,0)"},
{"offset":0.86,"color":"rgba(255,255,255,0)"},{"offset":0.861,"color":"rgba(255,255,255,0.95)"},{"offset":0.866,"color":"rgba(255,255,255,0.95)"},{"offset":0.867,"color":"rgba(255,255,255,0)"},
{"offset":0.88,"color":"rgba(255,255,255,0)"},{"offset":0.881,"color":"rgba(255,255,255,0.95)"},{"offset":0.886,"color":"rgba(255,255,255,0.95)"},{"offset":0.887,"color":"rgba(255,255,255,0)"},
{"offset":0.9,"color":"rgba(255,255,255,0)"},{"offset":0.901,"color":"rgba(255,255,255,0.95)"},{"offset":0.906,"color":"rgba(255,255,255,0.95)"},{"offset":0.907,"color":"rgba(255,255,255,0)"},
{"offset":0.92,"color":"rgba(255,255,255,0)"},{"offset":0.921,"color":"rgba(255,255,255,0.95)"},{"offset":0.926,"color":"rgba(255,255,255,0.95)"},{"offset":0.927,"color":"rgba(255,255,255,0)"},
{"offset":0.94,"color":"rgba(255,255,255,0)"},{"offset":0.941,"color":"rgba(255,255,255,0.95)"},{"offset":0.946,"color":"rgba(255,255,255,0.95)"},{"offset":0.947,"color":"rgba(255,255,255,0)"},
{"offset":0.96,"color":"rgba(255,255,255,0)"},{"offset":0.961,"color":"rgba(255,255,255,0.95)"},{"offset":0.966,"color":"rgba(255,255,255,0.95)"},{"offset":0.967,"color":"rgba(255,255,255,0)"},
{"offset":0.98,"color":"rgba(255,255,255,0)"},{"offset":0.981,"color":"rgba(255,255,255,0.95)"},{"offset":0.986,"color":"rgba(255,255,255,0.95)"},{"offset":0.987,"color":"rgba(255,255,255,0)"}
]}},
"encoding": {
"y": {"field": "process", "type": "nominal", "axis": null, "scale": {"domain": ["mono −γ", "mono −W (incl.)", "MIM (comb .)", "1 DT", "2 DT"], "paddingInner": 0, "paddingOuter": 0}},
"x": {"datum": 3, "type": "quantitative", "axis": null, "scale": {"domain": [2.73, 15.23], "nice": false, "zero": false}},
"x2": {"datum": 15.23}
}
},
{
"transform": [{"filter": "datum.sigma === '5σ' && datum.tier === 3"}],
"mark": {"type": "bar", "color": "#ffffff", "height": 18, "yOffset": -20.2},
"encoding": {
"y": {"field": "process", "type": "nominal", "axis": null, "scale": {"domain": ["mono −γ", "mono −W (incl.)", "MIM (comb .)", "1 DT", "2 DT"], "paddingInner": 0, "paddingOuter": 0}},
"x": {"field": "value", "type": "quantitative", "axis": null, "scale": {"domain": [2.73, 15.23], "nice": false, "zero": false}},
"x2": {"datum": 15.23}
}
},
{
"transform": [{"filter": "datum.sigma === '5σ'"}],
"mark": {"type": "bar", "height": 17, "yOffset": -20.2, "fillOpacity": 0, "stroke": "#333333", "strokeWidth": 0.8, "strokeOpacity": 0.6},
"encoding": {
"y": {"field": "process", "type": "nominal", "axis": null, "scale": {"domain": ["mono −γ", "mono −W (incl.)", "MIM (comb .)", "1 DT", "2 DT"], "paddingInner": 0, "paddingOuter": 0}},
"x": {"field": "value", "type": "quantitative", "axis": null, "scale": {"domain": [2.73, 15.23], "nice": false, "zero": false}},
"x2": {"datum": 3}
}
},
{
"data": {"name": "rightFreeze"},
"mark": {"type": "rect", "color": "#f26a45", "opacity": 0.14},
"encoding": {
"x": {"field": "lo", "type": "quantitative", "axis": null, "scale": {"domain": [2.73, 15.23], "nice": false, "zero": false}},
"x2": {"field": "hi"}
}
},
{
"data": {"name": "rightFreeze"},
"mark": {"type": "rule", "color": "#e8231b", "strokeWidth": 3.5},
"encoding": {"x": {"field": "lo", "type": "quantitative", "axis": null, "scale": {"domain": [2.73, 15.23], "nice": false, "zero": false}}}
},
{
"data": {"name": "rightFreeze"},
"mark": {"type": "rule", "color": "#e8231b", "strokeWidth": 3.5},
"encoding": {"x": {"field": "hi", "type": "quantitative", "axis": null, "scale": {"domain": [2.73, 15.23], "nice": false, "zero": false}}}
},
{
"data": {"name": "rightFreeze"},
"mark": {"type": "text", "angle": 270, "font": "DejaVu Serif", "fontWeight": "bold", "fontSize": 14, "color": "#e8231b", "align": "center", "baseline": "middle", "yOffset": -31},
"encoding": {
"x": {"field": "tx", "type": "quantitative", "axis": null, "scale": {"domain": [2.73, 15.23], "nice": false, "zero": false}},
"y": {"field": "ty", "type": "nominal", "axis": null, "scale": {"domain": ["mono −γ", "mono −W (incl.)", "MIM (comb .)", "1 DT", "2 DT"], "paddingInner": 0, "paddingOuter": 0}},
"text": {"field": "label"}
}
},
{
"mark": {"type": "point", "filled": true, "opacity": 0},
"encoding": {
"y": {"field": "process", "type": "nominal", "axis": null, "scale": {"domain": ["mono −γ", "mono −W (incl.)", "MIM (comb .)", "1 DT", "2 DT"], "paddingInner": 0, "paddingOuter": 0}},
"x": {"field": "value", "type": "quantitative", "axis": null, "scale": {"domain": [2.73, 15.23], "nice": false, "zero": false}},
"shape": {"field": "sigma", "type": "nominal", "scale": {"domain": ["2σ", "5σ"], "range": ["M-1,-1H1V1H-1Z M-0.88,-0.88V0.88H0.88V-0.88Z", "M-1,-0.6L-0.6,-1L0.2,-1L-1,0.2Z M-1,0.6L0.6,-1L1,-1L1,-0.6L-0.6,1L-1,1Z M1,-0.2L1,0.6L0.6,1L-0.2,1Z"]},
"legend": {"orient": "none", "legendX": 432, "legendY": 34, "title": null, "padding": 0, "symbolSize": 330, "symbolOpacity": 1, "symbolStrokeWidth": 0, "labelFont": "Liberation Sans", "labelFontSize": 18, "labelColor": "#000", "rowPadding": 8, "labelOffset": 5}},
"fill": {"field": "sigma", "type": "nominal", "scale": {"domain": ["2σ", "5σ"], "range": ["#aaaaaa", "#000000"]},
"legend": {"orient": "none", "legendX": 432, "legendY": 34, "title": null, "padding": 0, "symbolSize": 330, "symbolOpacity": 1, "symbolStrokeWidth": 0, "labelFont": "Liberation Sans", "labelFontSize": 18, "labelColor": "#000", "rowPadding": 8, "labelOffset": 5}}
}
}
]
}
],
"spacing": 15,
"resolve": {"scale": {"x": "independent", "y": "independent", "color": "independent", "fill": "independent", "shape": "independent"}},
"config": {
"view": {"stroke": null},
"axis": {"grid": false},
"legend": {"labelFont": "Liberation Sans", "labelFontSize": 18, "labelColor": "#000"}
}
}
